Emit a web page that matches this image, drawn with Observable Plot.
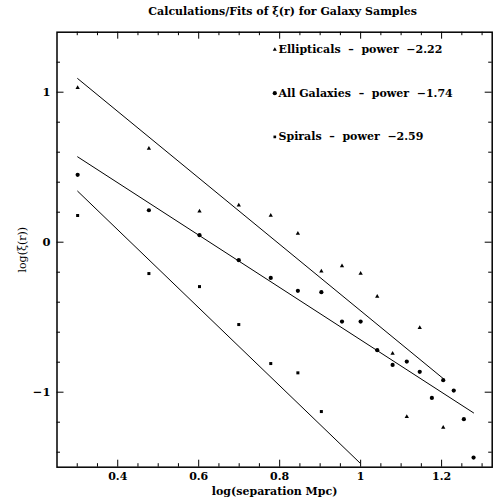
<!DOCTYPE html>
<html>
<head>
<meta charset="utf-8">
<script src="https://cdn.jsdelivr.net/npm/d3@7"></script>
<script src="https://cdn.jsdelivr.net/npm/@observablehq/plot@0.6"></script>
<style>
  html, body { margin: 0; padding: 0; background: #fff; }
  svg { display: block; }
</style>
</head>
<body>
<div id="chart"></div>
<script>
// ---- data ----
const ellX = [0.301, 0.477, 0.602, 0.699, 0.778, 0.845, 0.903, 0.954, 1.000, 1.041, 1.079, 1.114, 1.146, 1.204];
const ellY = [1.03, 0.625, 0.207, 0.247, 0.178, 0.058, -0.193, -0.158, -0.209, -0.362, -0.742, -1.164, -0.571, -1.236];

const allX = [0.301, 0.477, 0.602, 0.699, 0.778, 0.845, 0.903, 0.954, 1.000, 1.041, 1.079, 1.114, 1.146, 1.176, 1.204, 1.230, 1.255, 1.279];
const allY = [0.449, 0.213, 0.047, -0.12, -0.238, -0.324, -0.333, -0.529, -0.529, -0.72, -0.818, -0.796, -0.864, -1.038, -0.92, -0.989, -1.18, -1.436];

const spX = [0.301, 0.477, 0.602, 0.699, 0.778, 0.845, 0.903];
const spY = [0.178, -0.209, -0.296, -0.549, -0.809, -0.871, -1.129];

// fitted power-law lines (end points)
const ellFitX = [0.301, 1.204];
const ellFitY = [1.091, -0.909];
const allFitX = [0.301, 1.279];
const allFitY = [0.569, -1.138];
const spFitX = [0.301, 0.998];
const spFitY = [0.34, -1.471];

const legendLabels = ["Ellipticals  –  power  −2.22", "All Galaxies  –  power  −1.74", "Spirals  –  power  −2.59"];
const legendSymbols = ["triangle", "circle", "square"];

const xMajor = [0.4, 0.6, 0.8, 1, 1.2];
const xMinor = [0.3, 0.35, 0.45, 0.5, 0.55, 0.65, 0.7, 0.75, 0.85, 0.9, 0.95, 1.05, 1.1, 1.15, 1.25, 1.3];
const yMajor = [-1, 0, 1];
const yMinor = [-1.4, -1.2, -0.8, -0.6, -0.4, -0.2, 0.2, 0.4, 0.6, 0.8, 1.2];

const titleText = "Calculations/Fits of ξ(r) for Galaxy Samples";
const xLabel = "log(separation Mpc)";
const yLabel = "log(ξ(r))";

// ---- build ----
const pts = (xs, ys) => xs.map((x, i) => ({x, y: ys[i]}));
const W = 496, H = 502;
const mL = 56.5, mR = 4.3, mT = 31.7, mB = 35.3;
const innerH = H - mT - mB, innerW = W - mL - mR;
const majLen = 7, minLen = 3.5;
const font = "DejaVu Serif";
const fmt = d3.format("~g");

const marks = [
  // fit lines
  Plot.line(pts(ellFitX, ellFitY), {x: "x", y: "y", stroke: "black", strokeWidth: 1}),
  Plot.line(pts(allFitX, allFitY), {x: "x", y: "y", stroke: "black", strokeWidth: 1}),
  Plot.line(pts(spFitX, spFitY), {x: "x", y: "y", stroke: "black", strokeWidth: 1}),
  // points
  Plot.dot(pts(ellX, ellY), {x: "x", y: "y", symbol: "triangle", r: 1.6, fill: "black", stroke: "none"}),
  Plot.dot(pts(allX, allY), {x: "x", y: "y", symbol: "circle", r: 2.1, fill: "black", stroke: "none"}),
  Plot.dot(pts(spX, spY), {x: "x", y: "y", symbol: "square", r: 1.7, fill: "black", stroke: "none"}),
  // inward ticks, bottom and top
  Plot.tickX(xMajor, {x: d => d, insetTop: innerH - majLen, stroke: "black"}),
  Plot.tickX(xMinor, {x: d => d, insetTop: innerH - minLen, stroke: "black"}),
  Plot.tickX(xMajor, {x: d => d, insetBottom: innerH - majLen, stroke: "black"}),
  Plot.tickX(xMinor, {x: d => d, insetBottom: innerH - minLen, stroke: "black"}),
  // inward ticks, left and right
  Plot.tickY(yMajor, {y: d => d, insetRight: innerW - majLen, stroke: "black"}),
  Plot.tickY(yMinor, {y: d => d, insetRight: innerW - minLen, stroke: "black"}),
  Plot.tickY(yMajor, {y: d => d, insetLeft: innerW - majLen, stroke: "black"}),
  Plot.tickY(yMinor, {y: d => d, insetLeft: innerW - minLen, stroke: "black"}),
  // tick labels
  Plot.axisX({ticks: xMajor, tickFormat: fmt, tickSize: 0, tickPadding: 5, label: null, fontSize: 11, fontWeight: "bold", fill: "black"}),
  Plot.axisY({ticks: yMajor, tickFormat: fmt, tickSize: 0, tickPadding: 6.5, label: null, fontSize: 11.5, fontWeight: "bold", fill: "black"}),
  // frame
  Plot.frame({stroke: "black", strokeWidth: 1.5}),
  // labels
  Plot.text([titleText], {text: d => d, frameAnchor: "top", lineAnchor: "middle", dx: 8, dy: -20.7, fontSize: 11, fontWeight: "bold", fill: "black"}),
  Plot.text([xLabel], {text: d => d, frameAnchor: "bottom", lineAnchor: "middle", dy: 24.5, fontSize: 11, fontWeight: "bold", fill: "black"}),
  Plot.text([yLabel], {text: d => d, frameAnchor: "left", textAnchor: "middle", lineAnchor: "middle", dx: -34.5, rotate: -90, fontSize: 11, fill: "black"})
];

// legend rows
legendLabels.forEach((lab, i) => {
  marks.push(Plot.dot([lab], {frameAnchor: "top-left", dx: 217.8, dy: 17.3 + 43.7 * i, symbol: legendSymbols[i], r: i === 1 ? 2.1 : 1.5, fill: "black", stroke: "none"}));
  marks.push(Plot.text([lab], {text: d => d, frameAnchor: "top-left", lineAnchor: "middle", dx: 221.5, dy: 17.3 + 43.7 * i, textAnchor: "start", fontSize: 11, fontWeight: "bold", fill: "black"}));
});

const chart = Plot.plot({
  width: W,
  height: H,
  marginLeft: mL,
  marginRight: mR,
  marginTop: mT,
  marginBottom: mB,
  style: {fontFamily: font, background: "white", color: "black"},
  x: {domain: [0.25, 1.325], axis: null},
  y: {domain: [-1.5, 1.4], axis: null},
  marks
});
document.getElementById("chart").appendChild(chart);
</script>
</body>
</html>
